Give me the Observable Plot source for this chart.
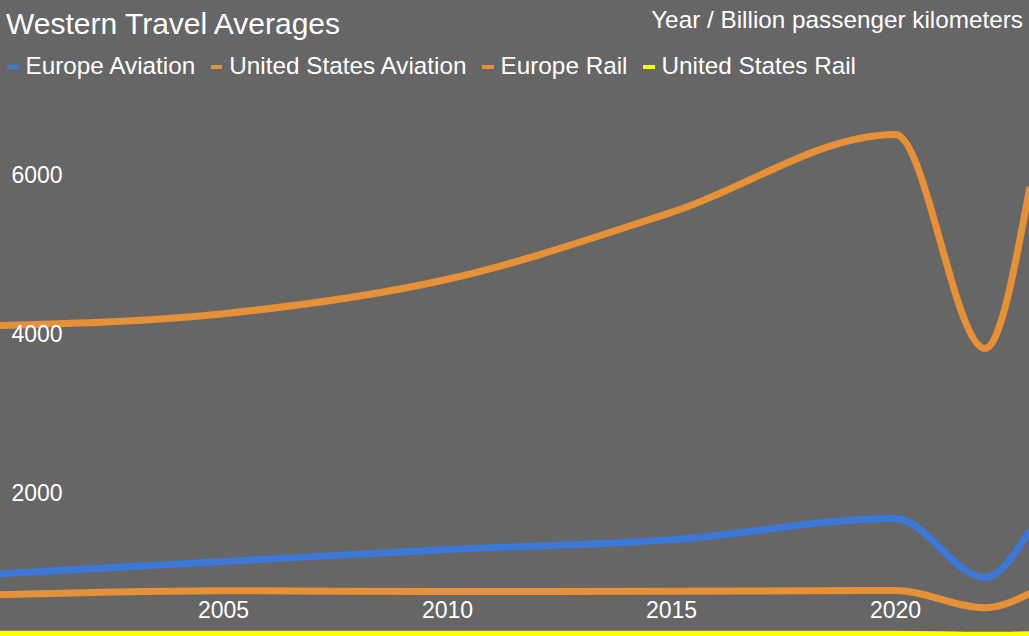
<!DOCTYPE html>
<html>
<head>
<meta charset="utf-8">
<script src="https://cdn.jsdelivr.net/npm/d3@7"></script>
<script src="https://cdn.jsdelivr.net/npm/@observablehq/plot@0.6"></script>
<style>
  html, body { margin: 0; padding: 0; background: #666666; }
  #wrap { position: relative; width: 1029px; height: 636px; overflow: hidden; background: #666666;
          font-family: "Liberation Sans", Arial, sans-serif; color: #ffffff; }
  #chart svg { display: block; overflow: hidden; }
  #title { position: absolute; left: 6px; top: 8.6px; font-size: 30px; line-height: 30px; white-space: nowrap; }
  #unit { position: absolute; right: 6px; top: 7.6px; font-size: 24.3px; line-height: 24.3px; white-space: nowrap; }
  #legend { position: absolute; left: 7px; top: 53.6px; font-size: 24.3px; line-height: 24.3px; white-space: nowrap; display: flex; }
  .item { display: inline-block; margin-right: 15.5px; }
  .sw { display: inline-block; width: 11.5px; height: 4px; vertical-align: 5px; margin-right: 7px; }
</style>
</head>
<body>
<div id="wrap">
  <div id="chart"></div>
  <div id="title">Western Travel Averages</div>
  <div id="unit">Year / Billion passenger kilometers</div>
  <div id="legend"></div>
</div>
<script>
const years = [2000, 2005, 2010, 2015, 2020, 2022, 2023];
const europeAviation = [1000, 1155, 1305, 1427, 1695, 953, 1550];
const usAviation = [4120, 4268, 4700, 5540, 6520, 3830, 5860];
const europeRail = [736, 787, 777, 781, 790, 573, 753];
const usRail = [242, 242, 242, 242, 242, 228, 234];
const seriesNames = ["Europe Aviation", "United States Aviation", "Europe Rail", "United States Rail"];
const seriesColors = ["#3c78d8", "#e69138", "#e69138", "#ffff00"];
const xTicks = [2005, 2010, 2015, 2020];
const yTicks = [2000, 4000, 6000];

const seriesValues = [europeAviation, usAviation, europeRail, usRail];
const data = seriesNames.flatMap((name, s) =>
  years.map((year, i) => ({series: name, year, value: seriesValues[s][i]}))
);

const chart = Plot.plot({
  width: 1029,
  height: 636,
  marginTop: 0, marginRight: 0, marginBottom: 0, marginLeft: 0,
  style: {
    background: "#666666",
    color: "#ffffff",
    fontFamily: "'Liberation Sans', Arial, sans-serif",
    fontSize: "23px",
    overflow: "hidden"
  },
  x: {domain: [2000, 2023], range: [-1, 1029.4]},
  y: {domain: [0, 6000], range: [652.9, 175.3]},
  color: {domain: seriesNames, range: seriesColors},
  marks: [
    Plot.lineY(data, {
      x: "year", y: "value", z: "series", stroke: "series",
      strokeWidth: 7, curve: "monotone-x", strokeLinecap: "butt"
    }),
    Plot.axisX({
      ticks: xTicks, tickFormat: "d", tickSize: 0, tickPadding: 0,
      label: null, fontSize: 23, dy: -34.8, fill: "#ffffff"
    }),
    Plot.axisY({
      ticks: yTicks, tickFormat: "d", tickSize: 0, tickPadding: 0,
      label: null, fontSize: 23, textAnchor: "start", dx: 11, dy: -0.3, fill: "#ffffff"
    })
  ]
});
document.getElementById("chart").appendChild(chart);

const legend = document.getElementById("legend");
seriesNames.forEach((name, i) => {
  const item = document.createElement("span");
  item.className = "item";
  const sw = document.createElement("span");
  sw.className = "sw";
  sw.style.background = seriesColors[i];
  item.appendChild(sw);
  item.appendChild(document.createTextNode(name));
  legend.appendChild(item);
});
</script>
</body>
</html>
